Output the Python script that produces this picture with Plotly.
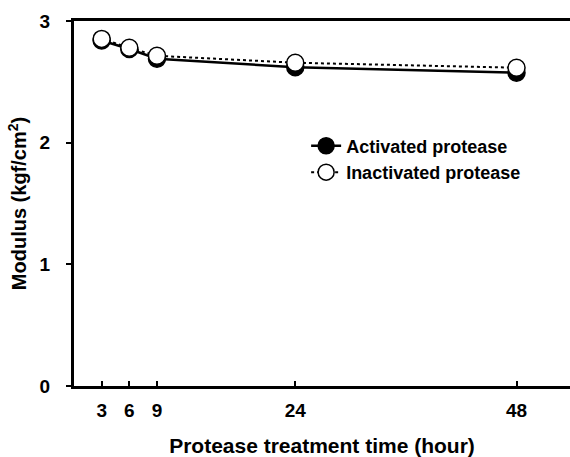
import plotly.graph_objects as go

hours = [3, 6, 9, 24, 48]
activated = [2.84, 2.77, 2.69, 2.62, 2.575]
inactivated = [2.853, 2.78, 2.714, 2.657, 2.616]
x_ticks = [3, 6, 9, 24, 48]
y_ticks = [0, 1, 2, 3]

FONT = "Arial, Liberation Sans, sans-serif"

fig = go.Figure()
fig.add_trace(go.Scatter(
    x=hours, y=activated, name="Activated protease", mode="lines+markers",
    line=dict(color="black", width=2.5, dash="solid"),
    marker=dict(symbol="circle", size=17, color="black", line=dict(color="black", width=1.5)),
))
fig.add_trace(go.Scatter(
    x=hours, y=inactivated, name="Inactivated protease", mode="lines+markers",
    line=dict(color="black", width=2, dash="dot"),
    marker=dict(symbol="circle", size=17, color="white", line=dict(color="black", width=1.5)),
))

fig.update_layout(
    width=570, height=457,
    margin=dict(l=74, r=0, t=21, b=69),
    paper_bgcolor="white", plot_bgcolor="white",
    font=dict(family=FONT, color="black", size=16),
    showlegend=True,
    legend=dict(x=0.468, y=0.708, xanchor="left", yanchor="top",
                font=dict(family=FONT, size=18, color="black", weight="bold"),
                bgcolor="rgba(0,0,0,0)", tracegroupgap=0),
    xaxis=dict(
        range=[0, 53.8], tickvals=x_ticks, ticktext=[str(t) for t in x_ticks],
        ticks="inside", ticklen=5, tickwidth=1.5, tickcolor="black",
        showline=True, linecolor="black", linewidth=3, mirror=True,
        showgrid=False, zeroline=False, ticklabelstandoff=5,
        tickfont=dict(family=FONT, size=19, weight="bold"),
        title=dict(text="Protease treatment time (hour)", standoff=22,
                   font=dict(family=FONT, size=21, weight="bold")),
    ),
    yaxis=dict(
        range=[0, 3], tickvals=y_ticks,
        ticks="outside", ticklen=5, tickwidth=1.5, tickcolor="black",
        showline=True, linecolor="black", linewidth=3,
        showgrid=False, zeroline=False, ticklabelstandoff=12,
        tickfont=dict(family=FONT, size=19, weight="bold"),
        title=dict(text="Modulus (kgf/cm<sup>2</sup>)", standoff=8,
                   font=dict(family=FONT, size=20, weight="bold")),
    ),
)

fig.write_html("out.html")
